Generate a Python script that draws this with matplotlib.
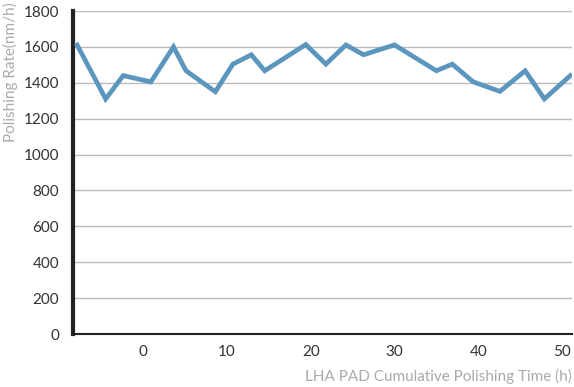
import matplotlib
matplotlib.use("Agg")
import matplotlib.pyplot as plt

# polishing time (h) and rate (nm/h)
hours = [-7.9, -4.5, -2.4, 0.9, 3.6, 5.1, 8.6, 10.7, 12.9, 14.5, 19.4,
         21.8, 24.2, 26.3, 30.0, 35.0, 36.9, 39.4, 42.6, 45.6, 47.9, 51.0]
rate = [1610, 1310, 1440, 1405, 1600, 1467, 1350, 1504, 1556, 1467, 1613,
        1504, 1611, 1556, 1611, 1467, 1504, 1405, 1352, 1467, 1310, 1440]
xticks = [0, 10, 20, 30, 40, 50]
yticks = [0, 200, 400, 600, 800, 1000, 1200, 1400, 1600, 1800]

plt.rcParams['font.family'] = ['Lato', 'DejaVu Sans']

fig = plt.figure(figsize=(5.74, 3.87), dpi=100)
ax = fig.add_axes([73 / 574, 1 - 334 / 387, (572 - 73) / 574, (334 - 11) / 387])

ax.plot(hours, rate, color='#5b96be', lw=3.4, solid_joinstyle='miter', zorder=3)

ax.set_xlim(-8.4, 51.2)
ax.set_ylim(0, 1800)
ax.set_xticks(xticks)
ax.set_yticks(yticks)
ax.tick_params(length=0, labelsize=11, colors='#333333', pad=8)
ax.tick_params(axis='y', pad=10)
ax.grid(axis='y', color='#bbbbbb', lw=1)
ax.set_axisbelow(True)

for s in ['top', 'right']:
    ax.spines[s].set_visible(False)
ax.spines['left'].set_linewidth(3)
ax.spines['left'].set_color('#222222')
ax.spines['bottom'].set_linewidth(1.5)
ax.spines['bottom'].set_color('#222222')

fig.text(572 / 574, 1 - 376 / 387, 'LHA PAD Cumulative Polishing Time (h)',
         ha='right', va='center', fontsize=11, color='#aaaaaa')
fig.text(10 / 574, 1 - 2 / 387, 'Polishing Rate(nm/h)', rotation=90,
         ha='center', va='top', fontsize=11, color='#aaaaaa')

fig.savefig('out.png', dpi=100)
